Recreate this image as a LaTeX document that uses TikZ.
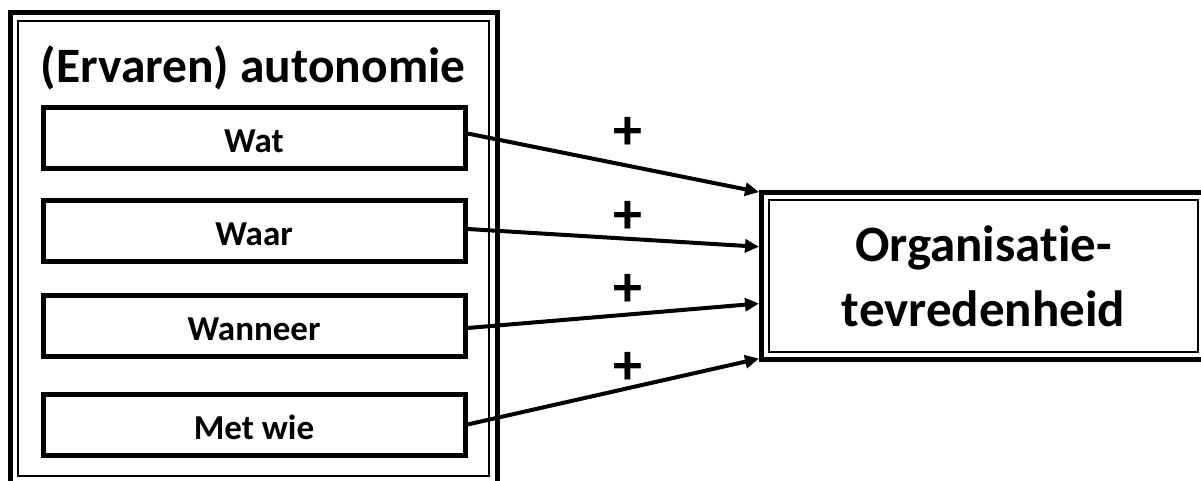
\documentclass[tikz,border=0pt]{standalone}
\usepackage{fontspec}
\setmainfont{Carlito}[Ligatures=NoCommon]
\usetikzlibrary{arrows.meta,calc,fit}

\begin{document}
\begin{tikzpicture}[x=1pt,y=-1pt,
    thinbox/.style={draw,line width=1.5pt,inner sep=0pt},
    thickframe/.style={draw,line width=5pt},
    itembox/.style={draw,line width=5pt,minimum width=422pt,minimum height=61pt,inner sep=0pt,
        font=\fontsize{35}{40}\selectfont\bfseries,text height=29pt,text depth=0pt},
    plussign/.style={font=\fontsize{58}{60}\selectfont\bfseries,inner sep=0pt},
    link/.style={line width=4pt,-{Triangle[length=14pt,width=13pt]}}]
    \useasboundingbox (0,0) rectangle (1201,481);
    \fill[white] (0,0) rectangle (1201,481);
    % linker blok
    \node[thinbox,minimum width=471pt,minimum height=455pt] (aut) at (253.5,248.5) {};
    \node[thickframe,fit=(aut),inner xsep=7.25pt,inner ysep=8pt] (autframe) {};
    \node[font=\fontsize{49.5}{58}\selectfont\bfseries,anchor=base] (title) at (253,83) {(Ervaren) autonomie};
    \node[itembox] (wat) at (254,138.5) {Wat};
    \node[itembox] (waar) at (254,231) {Waar};
    \node[itembox] (wanneer) at (254,325.5) {Wanneer};
    \node[itembox] (metwie) at (254,424.5) {Met wie};
    % rechter blok
    \node[thinbox,minimum width=429pt,minimum height=152pt,align=center,
        font=\fontsize{51}{65}\selectfont\bfseries] (org) at (983.5,276) {Organisatie-\\tevredenheid};
    \node[thickframe,fit=(org),inner sep=6.75pt] (orgframe) {};
    \path (orgframe.north west) -- (orgframe.south west)
        coordinate[pos=0.012] (in1) coordinate[pos=0.33] (in2)
        coordinate[pos=0.66] (in3) coordinate[pos=0.98] (in4);
    % pijlen
    \draw[link] ([yshift=5pt]wat.east) -- (in1);
    \draw[link] ([yshift=2pt]waar.east) -- (in2);
    \draw[link] ([yshift=-2.5pt]wanneer.east) -- (in3);
    \draw[link] (metwie.east) -- (in4);
    \node[plussign] (p1) at (628,133) {+};
    \node[plussign] (p2) at (628,217) {+};
    \node[plussign] (p3) at (628,290) {+};
    \node[plussign] (p4) at (628,368) {+};
\end{tikzpicture}
\end{document}
